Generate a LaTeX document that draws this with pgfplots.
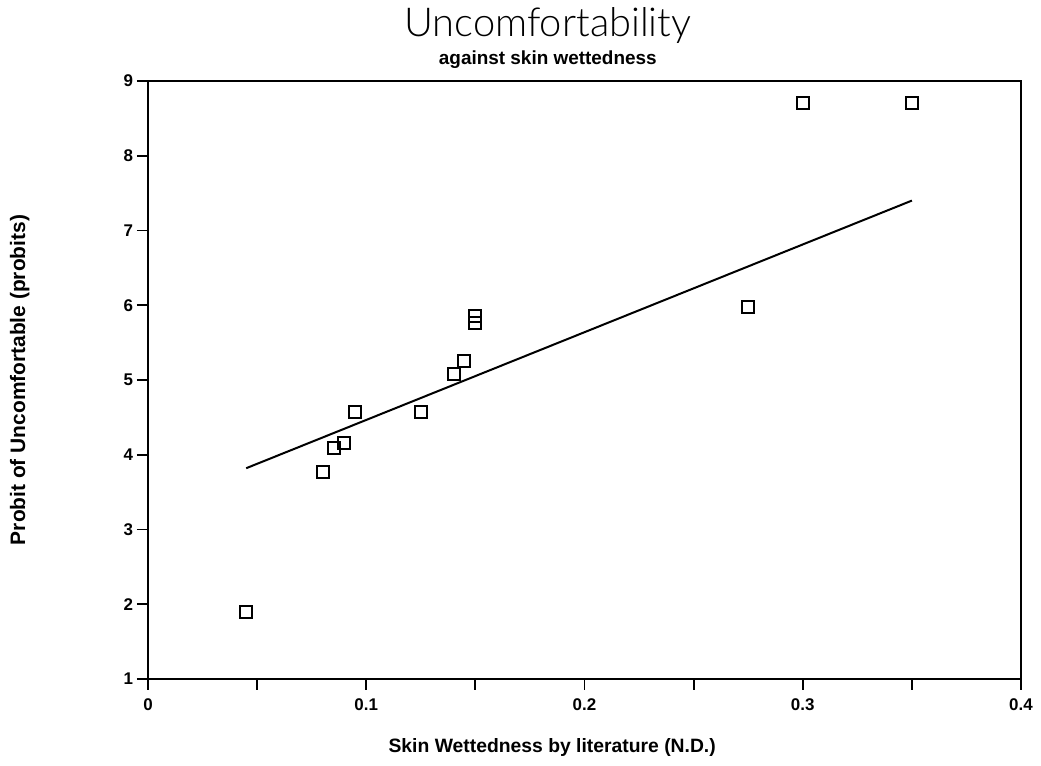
\documentclass[border=0pt]{standalone}
\usepackage{fontspec}
\setmainfont{Liberation Sans}
\newfontfamily\titlefont{Lato}[UprightFont=* Light]
\usepackage{pgfplots}
\pgfplotsset{compat=1.18}
\begin{document}
\begin{tikzpicture}[x=0.5bp,y=0.5bp]
\begin{axis}[
  at={(0,0)}, anchor=origin,
  scale only axis,
  width=436.5bp, height=299bp,
  xmin=0, xmax=0.4, ymin=1, ymax=9,
  xtick={0,0.1,0.2,0.3,0.4},
  minor xtick={0.05,0.15,0.25,0.35},
  ytick={1,2,...,9},
  xticklabels={0,0.1,0.2,0.3,0.4},
  tick align=outside,
  tick pos=left,
  major tick length=5.5bp,
  minor tick length=5.5bp,
  every tick/.style={black, line width=0.9bp},
  axis line style={line width=1bp},
  tick label style={font=\fontsize{8.5}{10}\selectfont\bfseries},
  /pgf/number format/assume math mode=true,
  xticklabel style={yshift=-1bp},
  yticklabel style={xshift=1.5bp},
  clip=false,
]
\addplot[only marks, mark=square, mark size=3bp, mark options={line width=1bp, black}] coordinates {
  (0.045,1.89) (0.080,3.77) (0.085,4.09) (0.090,4.16) (0.095,4.57)
  (0.125,4.57) (0.140,5.08) (0.145,5.25) (0.150,5.86) (0.150,5.76)
  (0.275,5.97) (0.300,8.71) (0.350,8.71)
};
\addplot[black, line width=1bp] coordinates {(0.045,3.82) (0.35,7.40)};
\node[font=\titlefont\fontsize{20}{24}\selectfont, anchor=base] at (rel axis cs:0.458,1.0736) {Uncomfortability};
\node[font=\fontsize{9.5}{10}\selectfont\bfseries, anchor=base] at (rel axis cs:0.458,1.0268) {against skin wettedness};
\node[font=\fontsize{9.7}{11}\selectfont\bfseries] at (rel axis cs:0.463,-0.114) {Skin Wettedness by literature (N.D.)};
\node[font=\fontsize{10.5}{12}\selectfont\bfseries, rotate=90] at (rel axis cs:-0.147,0.5) {Probit of Uncomfortable (probits)};
\end{axis}
\path[use as bounding box] (-148,-87) rectangle (893,679);
\end{tikzpicture}
\end{document}
